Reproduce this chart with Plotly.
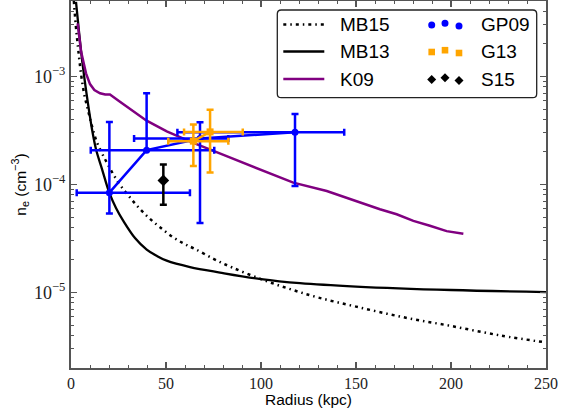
import plotly.graph_objects as go

# ---------------- data ----------------
# MB15 model (dash-dot black)
mb15_r = [1.5, 2.5, 3.5, 5.3, 7.0, 8.8, 11, 13.5, 16, 18.4, 22.3, 26, 31, 36, 41.6, 47,
          53.8, 60, 65.3, 75, 85, 100, 115, 130, 150, 175, 200, 226, 250]
mb15_n = [5.0e-3, 3.0e-3, 2.0e-3, 1.05e-3, 6.8e-4, 5.0e-4, 3.5e-4, 2.5e-4, 2.0e-4, 1.65e-4,
          1.24e-4, 9.8e-5, 7.6e-5, 6.0e-5, 4.8e-5, 4.0e-5, 3.24e-5, 2.8e-5, 2.53e-5, 2.05e-5,
          1.7e-5, 1.33e-5, 1.08e-5, 9.0e-6, 7.4e-6, 5.9e-6, 4.9e-6, 4.0e-6, 3.45e-6]

# MB13 model (solid black)
mb13_r = [2.63, 4.21, 6.05, 8.16, 11.05, 13.16, 16.32, 20.16, 23.68, 27.53, 33.68, 39.84,
          45.26, 50.37, 62.63, 78.42, 100, 120.5, 150, 200, 250]
mb13_n = [4.91e-3, 2.60e-3, 1.32e-3, 6.97e-4, 3.25e-4, 2.12e-4, 1.39e-4, 8.40e-5, 6.07e-5,
          4.61e-5, 3.2e-5, 2.5e-5, 2.18e-5, 1.97e-5, 1.72e-5, 1.53e-5, 1.33e-5, 1.22e-5,
          1.136e-5, 1.055e-5, 1.01e-5]

# K09 model (purple)
k09_r = [3.5, 5.3, 7.9, 10, 12.3, 15.3, 18, 20.5, 25.4, 32.5, 39.8, 50.4, 64.4, 81.9, 99.5,
         117, 134.6, 152, 162.6, 171.4, 180.2, 188.9, 197.7, 206.5]
k09_n = [3.1e-3, 1.7e-3, 1.07e-3, 8.5e-4, 7.5e-4, 7.0e-4, 6.8e-4, 6.8e-4, 5.9e-4, 4.8e-4,
         3.9e-4, 3.1e-4, 2.43e-4, 1.83e-4, 1.38e-4, 1.04e-4, 8.7e-5, 6.8e-5, 5.9e-5, 5.3e-5,
         4.6e-5, 4.15e-5, 3.7e-5, 3.5e-5]

# GP09 measurements (blue)
gp09_r = [20.2, 39.8, 67.9, 117.9]
gp09_n = [8.4e-5, 2.08e-4, 2.67e-4, 3.05e-4]
gp09_r_minus = [17.2, 29.4, 34.7, 61.9]
gp09_r_plus = [42.4, 35.6, 14.9, 25.9]
gp09_n_plus = [2.96e-4, 4.92e-4, 1.1e-4, 1.45e-4]
gp09_n_minus = [3.0e-5, 0.0, 2.23e-4, 2.08e-4]

# G13 measurements (orange)
g13_r = [64.4, 73.2]
g13_n = [2.52e-4, 3.07e-4]
g13_r_minus = [13.2, 13.7]
g13_r_plus = [18.4, 17.2]
g13_n_plus = [1.07e-4, 1.86e-4]
g13_n_minus = [1.04e-4, 1.78e-4]

# S15 measurement (black diamond)
s15_r = [48.6]
s15_n = [1.09e-4]
s15_n_err = [4.4e-5]

x_ticks = [0, 50, 100, 150, 200, 250]
y_ticks = [1e-5, 1e-4, 1e-3]
y_ticktext = ["10<sup>\u22125</sup>", "10<sup>\u22124</sup>", "10<sup>\u22123</sup>"]

BLUE = "#0000ff"
ORANGE = "#ffa500"
PURPLE = "#800080"
DASHDOT = "3px,4px,1.5px,4px"

# ---------------- figure ----------------
W, H = 569, 408
ML, MR, MT, MB = 71, 23, 1, 40
PW, PH = W - ML - MR, H - MT - MB


def pxx(x):
    return (x - ML) / PW


def pxy(y):
    return (H - MB - y) / PH


fig = go.Figure()

fig.add_trace(go.Scatter(x=mb15_r, y=mb15_n, mode="lines", name="MB15",
                         line=dict(color="black", width=2.5, dash=DASHDOT, shape="spline")))
fig.add_trace(go.Scatter(x=mb13_r, y=mb13_n, mode="lines", name="MB13",
                         line=dict(color="black", width=2.3, shape="spline")))
fig.add_trace(go.Scatter(x=k09_r, y=k09_n, mode="lines", name="K09",
                         line=dict(color=PURPLE, width=2.5)))

fig.add_trace(go.Scatter(
    x=gp09_r, y=gp09_n, mode="lines+markers", name="GP09",
    line=dict(color=BLUE, width=2.5),
    marker=dict(color=BLUE, size=7, symbol="circle"),
    error_x=dict(type="data", symmetric=False, array=gp09_r_plus, arrayminus=gp09_r_minus,
                 color=BLUE, thickness=2.5, width=3.5),
    error_y=dict(type="data", symmetric=False, array=gp09_n_plus, arrayminus=gp09_n_minus,
                 color=BLUE, thickness=2.5, width=3.5)))

fig.add_trace(go.Scatter(
    x=g13_r, y=g13_n, mode="lines+markers", name="G13",
    line=dict(color=ORANGE, width=2.5),
    marker=dict(color=ORANGE, size=7, symbol="square"),
    error_x=dict(type="data", symmetric=False, array=g13_r_plus, arrayminus=g13_r_minus,
                 color=ORANGE, thickness=2.5, width=3.5),
    error_y=dict(type="data", symmetric=False, array=g13_n_plus, arrayminus=g13_n_minus,
                 color=ORANGE, thickness=2.5, width=3.5)))

fig.add_trace(go.Scatter(
    x=s15_r, y=s15_n, mode="markers", name="S15",
    marker=dict(color="black", size=9, symbol="diamond"),
    error_y=dict(type="data", array=s15_n_err, color="black", thickness=2.5, width=3.5)))

# ---------------- manual legend (matplotlib style box) ----------------
shapes = []
cx, cy = 407.0, 53.85
a, b, rr = 129.7, 43.85, 4
frame_path = (f"M {-a+rr},{b} L {a-rr},{b} Q {a},{b} {a},{b-rr} L {a},{-b+rr} "
              f"Q {a},{-b} {a-rr},{-b} L {-a+rr},{-b} Q {-a},{-b} {-a},{-b+rr} "
              f"L {-a},{b-rr} Q {-a},{b} {-a+rr},{b} Z")
shapes.append(dict(type="path", xref="paper", yref="paper", xsizemode="pixel", ysizemode="pixel",
                   xanchor=pxx(cx), yanchor=pxy(cy), path=frame_path,
                   fillcolor="white", line=dict(color="#222222", width=1.3), layer="above"))

rows = [24.5, 51.5, 79.0]
left_line = [(DASHDOT, "black"), ("solid", "black"), ("solid", PURPLE)]
for (dash, col), ry in zip(left_line, rows):
    shapes.append(dict(type="line", xref="paper", yref="paper",
                       x0=pxx(283.3), x1=pxx(324.3), y0=pxy(ry), y1=pxy(ry),
                       line=dict(color=col, width=2.5, dash=dash), layer="above"))

mk_x = [431.7, 445.0, 459.0]
mk_dy = [0.5, -1.3, 1.5]
for mx, dy in zip(mk_x, mk_dy):
    shapes.append(dict(type="circle", xref="paper", yref="paper", xsizemode="pixel",
                       ysizemode="pixel", xanchor=pxx(mx), yanchor=pxy(rows[0] + dy),
                       x0=-3.5, x1=3.5, y0=-3.5, y1=3.5, fillcolor=BLUE,
                       line=dict(width=0), layer="above"))
for mx, dy in zip(mk_x, mk_dy):
    shapes.append(dict(type="rect", xref="paper", yref="paper", xsizemode="pixel",
                       ysizemode="pixel", xanchor=pxx(mx), yanchor=pxy(rows[1] + dy),
                       x0=-3.3, x1=3.3, y0=-3.3, y1=3.3, fillcolor=ORANGE,
                       line=dict(width=0), layer="above"))
for mx, dy in zip(mk_x, mk_dy):
    shapes.append(dict(type="path", xref="paper", yref="paper", xsizemode="pixel",
                       ysizemode="pixel", xanchor=pxx(mx), yanchor=pxy(rows[2] + dy),
                       path="M 0,4.5 L 4.5,0 L 0,-4.5 L -4.5,0 Z", fillcolor="black",
                       line=dict(width=0), layer="above"))

annotations = []
leg_font = dict(family="Liberation Sans, Arial, sans-serif", size=19, color="black")
for name, ry in zip(["MB15", "MB13", "K09"], rows):
    annotations.append(dict(text=name, xref="paper", yref="paper", x=pxx(337.5), y=pxy(ry),
                            xanchor="left", yanchor="middle", showarrow=False, font=leg_font))
for name, ry in zip(["GP09", "G13", "S15"], rows):
    annotations.append(dict(text=name, xref="paper", yref="paper", x=pxx(478.5), y=pxy(ry),
                            xanchor="left", yanchor="middle", showarrow=False, font=leg_font))

axis_col = "#555555"
tick_font = dict(family="Liberation Serif, Times New Roman, serif", size=16, color="#222222")
ytick_font = dict(family="Liberation Serif, Times New Roman, serif", size=18, color="#222222")
title_font = dict(family="Liberation Sans, Arial, sans-serif", size=15.5, color="black")

fig.update_layout(
    width=W, height=H,
    margin=dict(l=ML, r=MR, t=MT, b=MB, pad=0),
    paper_bgcolor="white", plot_bgcolor="white",
    showlegend=False,
    shapes=shapes, annotations=annotations,
    xaxis=dict(range=[0, 250], tickvals=x_ticks, ticks="inside", ticklen=6, tickwidth=1.2,
               tickcolor=axis_col, showline=True, linecolor=axis_col, linewidth=2,
               mirror="ticks", showgrid=False, zeroline=False, tickfont=tick_font,
               minor=dict(dtick=10, ticks="inside", ticklen=3, tickcolor=axis_col,
                          tickwidth=1, showgrid=False),
               title=dict(text="Radius (kpc)", font=title_font, standoff=8),
               automargin=False),
    yaxis=dict(type="log", range=[-5.69897, -2.30103], tickvals=y_ticks, ticktext=y_ticktext,
               ticks="inside", ticklen=6, tickwidth=1.2, tickcolor=axis_col, showline=True,
               linecolor=axis_col, linewidth=2, mirror="ticks", showgrid=False, zeroline=False,
               tickfont=ytick_font,
               minor=dict(dtick="D1", ticks="inside", ticklen=3, tickcolor=axis_col,
                          tickwidth=1, showgrid=False),
               title=dict(text="n<sub>e</sub> (cm<sup>\u22123</sup>)", font=title_font,
                          standoff=4),
               automargin=False),
)

fig.write_html("out.html",
               config={"displayModeBar": False, "staticPlot": True},
               post_script="document.body.style.margin='0px';"
                           "document.body.style.overflow='hidden';")
